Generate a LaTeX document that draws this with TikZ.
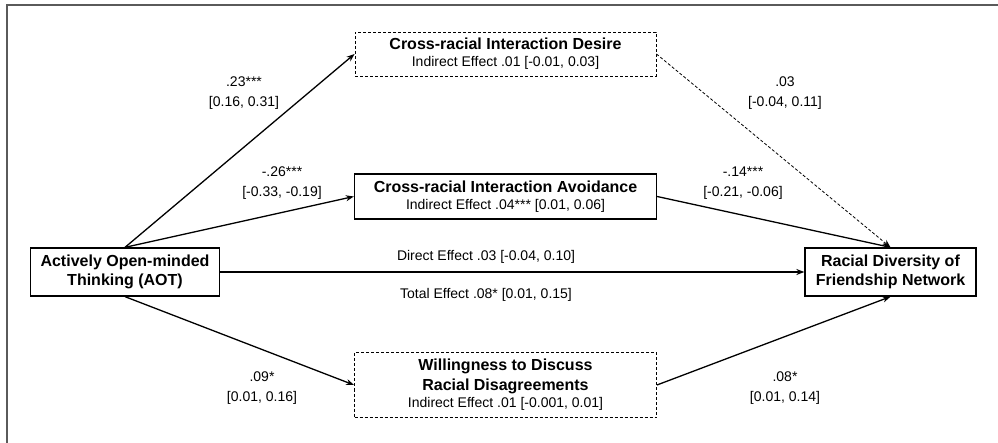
\documentclass[tikz,border=0pt]{standalone}
\usepackage{fontspec}
\setmainfont{Liberation Sans}
\usetikzlibrary{arrows.meta}
\definecolor{framegray}{RGB}{90,90,90}
\newcommand{\hd}[1]{{\fontsize{16}{19}\selectfont\bfseries #1}}
\tikzset{
	varbox/.style={draw, line width=1.3pt, align=center, inner sep=0pt, font=\fontsize{14}{17}\selectfont},
	dashbox/.style={varbox, line width=0.9pt, dash pattern=on 3pt off 2pt},
	coef/.style={align=center, inner sep=0pt, font=\fontsize{14}{20}\selectfont},
	link/.style={line width=1.3pt, -{Stealth[length=8pt,width=6pt]}},
	dashlink/.style={link, line width=0.8pt, dash pattern=on 3pt off 2pt}
}
\begin{document}
\begin{tikzpicture}[x=1pt, y=-1pt]
		%%%%% START %%%%%
		\useasboundingbox (0, 0) rectangle (998, 443);
		
		% frame
		\draw[line width=2pt, color=framegray] (6.5, 443) -- (6.5, 5) -- (998, 5);
		
		% variables
		\node[varbox, minimum width=189pt, minimum height=48pt] (aot) at (125, 272) {\hd{Actively Open-minded}\\[2.5pt]\hd{Thinking (AOT)}};
		\node[varbox, minimum width=171pt, minimum height=48pt] (rd) at (890.5, 272) {\hd{Racial Diversity of}\\[2.5pt]\hd{Friendship Network}};
		\node[dashbox, minimum width=301pt, minimum height=44pt] (desire) at (505.5, 54) {\hd{Cross-racial Interaction Desire}\\Indirect Effect .01 [-0.01, 0.03]};
		\node[varbox, minimum width=302pt, minimum height=45pt] (avoid) at (505.5, 196.5) {\hd{Cross-racial Interaction Avoidance}\\Indirect Effect .04*** [0.01, 0.06]};
		\node[dashbox, minimum width=302pt, minimum height=65pt] (will) at (505.5, 385) {\hd{Willingness to Discuss}\\[3pt]\hd{Racial Disagreements}\\Indirect Effect .01 [-0.001, 0.01]};
		
		% paths
		\draw[link] (aot.north) -- (desire.west);
		\draw[link] (aot.north) -- (avoid.west);
		\draw[link] (aot.south) -- (will.west);
		\draw[link] (aot.east) -- (rd.west);
		\draw[dashlink] (desire.east) -- (rd.north);
		\draw[link] (avoid.east) -- (rd.north);
		\draw[link] (will.east) -- (rd.south);
		
		% coefficients
		\node[coef] (a1) at (244, 93) {.23***\\{}[0.16, 0.31]};
		\node[coef] (a2) at (282, 183) {-.26***\\{}[-0.33, -0.19]};
		\node[coef] (a3) at (262, 388) {.09*\\{}[0.01, 0.16]};
		\node[coef] (b1) at (785, 93) {.03\\{}[-0.04, 0.11]};
		\node[coef] (b2) at (743, 183) {-.14***\\{}[-0.21, -0.06]};
		\node[coef] (b3) at (785, 388) {.08*\\{}[0.01, 0.14]};
		\node[coef] (direct) at (486, 257) {Direct Effect .03 [-0.04, 0.10]};
		\node[coef] (total) at (486, 295) {Total Effect .08* [0.01, 0.15]};
		%%%%% END %%%%%
\end{tikzpicture}
\end{document}
